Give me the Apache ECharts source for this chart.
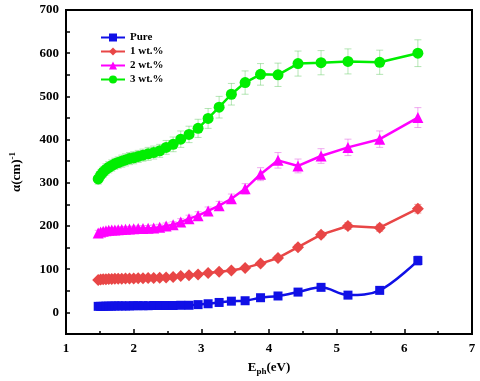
<!DOCTYPE html>
<html>
<head>
<meta charset="utf-8">
<script src="https://cdn.jsdelivr.net/npm/echarts@6/dist/echarts.min.js"></script>
<style>html,body{margin:0;padding:0;background:#fff}#c{width:480px;height:381px}</style>
</head>
<body>
<div id="c"></div>
<script>
const energy = [1.476,1.512,1.55,1.59,1.632,1.676,1.722,1.771,1.824,1.879,1.938,2.0,2.067,2.138,2.214,2.296,2.385,2.48,2.583,2.696,2.818,2.952,3.1,3.263,3.444,3.647,3.875,4.133,4.429,4.769,5.167,5.636,6.2];
const pure = [14,14,14,14.5,14.5,14.5,15,15,15,15,15,15.5,15.5,15.5,15.5,16,16,16,16,16.5,16.5,18,20,23,26,27,34,38,47,58,40,51,120];
const wt1 = [75,76,76.5,77,77.5,77.5,78,78,78,78.5,78.5,78.5,79,79,79.5,79.5,80,81,82,84,86,88,91,94,97,103,113,126,151,180,200,196,240];
const wt2 = [184,186,188,189,190,190.5,191,191.5,192,192.5,193,193.5,194,194.5,195,195.5,197,200,203,209,217,224,235,247,263,286,320,352,339,362,382,401,451];
const wt3 = [309,318,325,331,336,340,344,347,350,353,356,358,361,364,367,370,374,382,389,401,412,426,449,475,505,532,551,550,576,578,581,579,600];
const errPure = [1,1,1,1,1,1,1,1,1,1,1,1,1,1,1,1,1,1,1,1,1,1,1,1,2,2,2,2,2,3,3,3,10];
const err1 = [3,3,3,3,3,3,3,3,3,3,3,3,3,3,3,3,3,3,3,3,4,4,4,4,4,4,5,5,6,7,8,8,10];
const err2 = [6,6,6,6,6,6,6,6,6,6,6,6,6,6,6,7,7,7,7,8,8,9,9,10,11,12,15,18,16,17,19,19,23];
const err3 = [12,12,12,13,13,13,13,13,14,14,14,14,14,14,15,15,15,16,17,19,19,21,23,25,25,27,25,27,29,28,29,28,31];
const seriesNames = ['Pure','1 wt.%','2 wt.%','3 wt.%'];
const xTicks = [1,2,3,4,5,6,7];
const yTickLabels = [0,100,200,300,400,500,600,700];

const FONT = 'Liberation Serif';
const colors = ['#1010e6','#e84646','#ff00ff','#00ee00'];
const errColors = ['rgba(16,16,230,0.8)','rgba(232,70,70,0.55)','rgba(230,110,230,0.6)','rgba(90,200,90,0.45)'];
const symbols = ['rect','diamond','triangle','circle'];
const symSizes = [9,12,11,11];
const values = [pure,wt1,wt2,wt3];
const errs = [errPure,err1,err2,err3];

function errSeries(i){
  return {
    type:'custom', name:'err'+i, z:1,
    data: energy.map((x,k)=>[x, values[i][k]-errs[i][k], values[i][k]+errs[i][k]]),
    renderItem:function(params, api){
      const lo = api.coord([api.value(0), api.value(1)]);
      const hi = api.coord([api.value(0), api.value(2)]);
      const w = 3.5;
      const st = {stroke: errColors[i], lineWidth: 1};
      return {type:'group', children:[
        {type:'line', shape:{x1:lo[0],y1:lo[1],x2:hi[0],y2:hi[1]}, style:st},
        {type:'line', shape:{x1:lo[0]-w,y1:lo[1],x2:lo[0]+w,y2:lo[1]}, style:st},
        {type:'line', shape:{x1:hi[0]-w,y1:hi[1],x2:hi[0]+w,y2:hi[1]}, style:st}
      ]};
    },
    silent:true
  };
}
function lineSeries(i){
  return {
    type:'line', name:seriesNames[i], z:3,
    data: energy.map((x,k)=>[x, values[i][k]]),
    symbol: symbols[i], symbolSize: symSizes[i], showAllSymbol:true,
    smooth: i===0 ? 0.35 : false,
    lineStyle:{color:colors[i], width:2.5},
    itemStyle:{color:colors[i]},
    animation:false
  };
}

const chart = echarts.init(document.getElementById('c'), null, {renderer:'canvas'});
chart.setOption({
  animation:false,
  backgroundColor:'#fff',
  grid:{left:61, right:8, top:10, bottom:46, show:true, borderColor:'#000', borderWidth:2, containLabel:false},
  legend:{
    data: seriesNames, orient:'vertical', left:100, top:32, itemWidth:24, itemHeight:10, itemGap:3,
    textStyle:{fontFamily:FONT, fontWeight:'bold', fontSize:11, color:'#000'}, padding:0
  },
  xAxis:{
    type:'value', min:1, max:7, interval:1,
    name:'{a|E}{s|ph}{a|(eV)}', nameLocation:'middle', nameGap:25,
    nameTextStyle:{rich:{a:{fontFamily:FONT,fontWeight:'bold',fontSize:13,color:'#000'}, s:{fontFamily:FONT,fontWeight:'bold',fontSize:9,color:'#000',verticalAlign:'bottom',padding:[8,0,0,0]}}},
    axisLine:{show:true, onZero:false, lineStyle:{color:'#000', width:2}},
    axisTick:{inside:true, length:5, lineStyle:{color:'#000', width:1.5}},
    minorTick:{show:true, splitNumber:2, length:3, lineStyle:{color:'#000', width:1.5}},
    splitLine:{show:false},
    axisLabel:{fontFamily:FONT, fontWeight:'bold', fontSize:13, color:'#000', margin:8,
      formatter:v=> xTicks.indexOf(v)>=0 ? String(v) : ''}
  },
  yAxis:{
    type:'value', min:-50, max:700, interval:50,
    name:'{a|α(cm)}{s|-1}', nameLocation:'middle', nameGap:41, nameRotate:90,
    nameTextStyle:{rich:{a:{fontFamily:FONT,fontWeight:'bold',fontSize:13,color:'#000'}, s:{fontFamily:FONT,fontWeight:'bold',fontSize:9,color:'#000',verticalAlign:'top',padding:[0,0,8,0]}}},
    axisLine:{show:true, onZero:false, lineStyle:{color:'#000', width:2}},
    axisTick:{inside:true, length:4, lineStyle:{color:'#000', width:1.5}},
    splitLine:{show:false},
    axisLabel:{fontFamily:FONT, fontWeight:'bold', fontSize:13, color:'#000', margin:7,
      formatter:v=> yTickLabels.indexOf(v)>=0 ? String(v) : ''}
  },
  series:[errSeries(0),errSeries(1),errSeries(2),errSeries(3),lineSeries(0),lineSeries(1),lineSeries(2),lineSeries(3)]
});
</script>
</body>
</html>
